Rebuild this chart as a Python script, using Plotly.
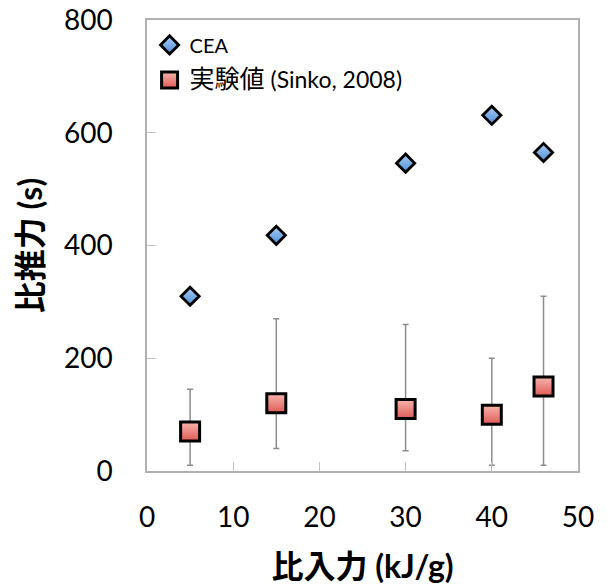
import plotly.graph_objects as go

# Specific energy input (kJ/g)
cea_x = [5, 15, 30, 40, 46]
cea_isp = [310, 418, 546, 631, 565]

exp_x = [5, 15, 30, 40, 46]
exp_isp = [70, 120, 110, 100, 150]
exp_upper = [145, 270, 260, 200, 310]
exp_lower = [10, 40, 36, 10, 10]

x_ticks = [0, 10, 20, 30, 40, 50]
y_ticks = [0, 200, 400, 600, 800]

err_plus = [u - v for u, v in zip(exp_upper, exp_isp)]
err_minus = [v - l for v, l in zip(exp_isp, exp_lower)]

FONT = "Lato, 'Noto Sans CJK JP', sans-serif"

fig = go.Figure()

fig.add_trace(go.Scatter(
    x=cea_x, y=cea_isp, mode="markers", name="CEA", legendgroup="cea",
    marker=dict(symbol="diamond", size=14, color="#a9cdf5",
                gradient=dict(type="vertical", color="#4f8fd6"),
                line=dict(color="black", width=2.8)),
))

fig.add_trace(go.Scatter(
    x=exp_x, y=exp_isp, mode="markers", legendgroup="exp",
    name='<span style="font-size:25px">実験値</span><span style="font-size:23px"> (Sinko, 2008)</span>',
    marker=dict(symbol="square", size=19, color="#f7b5ae",
                gradient=dict(type="vertical", color="#de5a55"),
                line=dict(color="black", width=3)),
    error_y=dict(type="data", symmetric=False, array=err_plus,
                 arrayminus=err_minus, color="#8c8c8c", thickness=1.5, width=3),
))

axis_common = dict(
    automargin=False,
    showline=True, mirror=True, linecolor="#b0b0b0", linewidth=1.5,
    showgrid=False, zeroline=False, ticks="inside", ticklen=9,
    tickcolor="#c0c0c0", tickwidth=1.2,
    tickfont=dict(family=FONT, size=28, color="black"),
)

fig.update_xaxes(
    range=[0, 50], tickvals=x_ticks, ticklabelstandoff=21,
    title=dict(text="<b>比入力 (kJ/g)</b>", font=dict(family=FONT, size=32, color="black"),
               standoff=26),
    **axis_common,
)
fig.update_yaxes(
    range=[0, 800], tickvals=y_ticks, ticklabelstandoff=27,
    title=dict(text="<b>比推力 (s)</b>", font=dict(family=FONT, size=32, color="black"),
               standoff=12),
    **axis_common,
)

fig.update_layout(
    width=607, height=585,
    margin=dict(l=147, r=29, t=20, b=114),
    plot_bgcolor="white", paper_bgcolor="white",
    showlegend=True,
    legend=dict(x=0.006, y=0.988, xanchor="left", yanchor="top",
                bgcolor="rgba(0,0,0,0)", tracegroupgap=6,
                font=dict(family=FONT, size=20, color="black"),
                itemwidth=30),
)

fig.write_html("out.html")
